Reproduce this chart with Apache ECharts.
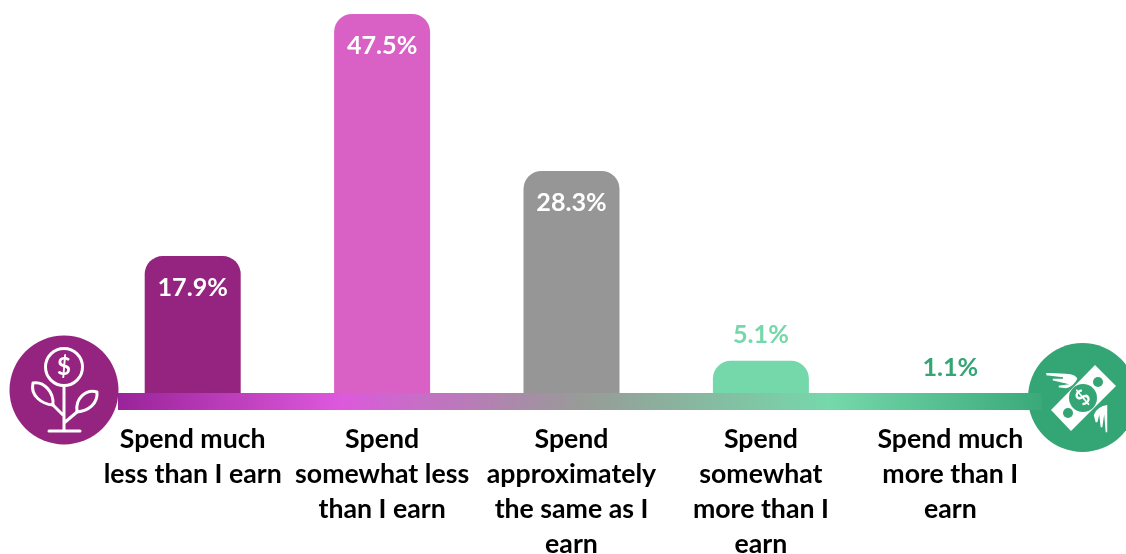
<!DOCTYPE html>
<html><head><meta charset="utf-8">
<style>html,body{margin:0;padding:0;background:#fff}#c{width:1126px;height:554px}</style>
<script src="https://cdn.jsdelivr.net/npm/echarts@6/dist/echarts.min.js"></script>
</head><body><div id="c"></div>
<script>
const categories = ["Spend much\nless than I earn","Spend\nsomewhat less\nthan I earn","Spend\napproximately\nthe same as I\nearn","Spend\nsomewhat\nmore than I\nearn","Spend much\nmore than I\nearn"];
const values = [17.9,47.5,28.3,5.1,1.1];
const barColors = ["#94247f","#d961c6","#969696","#75d8ab","#34a574"];
const labelColors = ["#ffffff","#ffffff","#ffffff","#75d8ab","#34a574"];
const labelInside = [true,true,true,false,false];
const font = "Lato";
const chart = echarts.init(document.getElementById('c'));
const W = '#ffffff';
const G = '#34a574';
const icons = {
  stem:'M64 386 L64 431 M49 431 L80 431 M64 416 L53 405 M64 423 L77 412',
  leafL:'M33 383 C44 381 54 392 53 405 C42 404 30 396 33 383 Z',
  leafR:'M97 392 C86 389 75 398 77 412 C88 411 98 404 97 392 Z',
  bill:'M1095 365 L1116 386 L1071 431 L1051 410 Z',
  wingA:'M1045 372 L1066 373 C1073 373 1078 376 1078 379 C1075 385 1071 388 1066 389 L1058 388 L1058 385 L1065 384 L1052 381 L1052 378 L1063 378 L1046 376 Z',
  wingB:'M1108 404 L1108 433 L1105 433 L1104 421 L1103 428 L1100 428 L1099 419 L1098 423 L1095 423 L1093 415 C1095 409 1101 405 1108 404 Z'
};
Object.keys(icons).forEach(k=>echarts.graphic.registerShape(k,echarts.graphic.extendPath(icons[k],{})));
chart.setOption({
  animation:false,
  grid:{left:98,right:81,top:14,bottom:151.6,outerBoundsMode:'none',containLabel:false},
  xAxis:{type:'category',data:categories,axisLine:{show:false},axisTick:{show:false},
    axisLabel:{interval:0,margin:20,color:'#000',fontFamily:font,fontWeight:'bold',fontSize:26.7,lineHeight:34.8,align:'center',verticalAlign:'top'}},
  yAxis:{type:'value',min:0,max:47.5,show:false,splitLine:{show:false}},
  series:[{type:'bar',barWidth:96,z:2,
    data:values.map((v,i)=>({value:v,
      itemStyle:{color:barColors[i],borderRadius:[18,18,0,0]},
      label:{show:true,position:labelInside[i]?'insideTop':'top',distance:labelInside[i]?19:13,color:labelColors[i],
        fontFamily:font,fontWeight:'bold',fontSize:25.2,formatter:'{c}%'}}))}],
  graphic:[
    {type:'rect',z:20,shape:{x:118,y:393,width:924,height:17},
      style:{fill:new echarts.graphic.LinearGradient(0,0,1,0,[
        {offset:0,color:'#9a2399'},{offset:.24,color:'#dd58dd'},{offset:.503,color:'#979c97'},{offset:.77,color:'#75d8ab'},{offset:1,color:'#3aa97a'}])}},
    {type:'circle',z:19,shape:{cx:64,cy:390,r:54.5},style:{fill:'#94247f'}},
    {type:'circle',z:21,shape:{cx:64,cy:367,r:18.5},style:{fill:'none',stroke:W,lineWidth:3}},
    {type:'text',z:21,style:{x:64,y:367,text:'$',fill:W,font:'bold 24px Lato',align:'center',verticalAlign:'middle'}},
    {type:'stem',z:21,style:{fill:'none',stroke:W,lineWidth:3,lineCap:'round'}},
    {type:'leafL',z:21,style:{fill:'none',stroke:W,lineWidth:3,lineJoin:'round'}},
    {type:'leafR',z:21,style:{fill:'none',stroke:W,lineWidth:3,lineJoin:'round'}},
    {type:'circle',z:19,shape:{cx:1082.5,cy:397.5,r:54.5},style:{fill:G}},
    {type:'bill',z:21,style:{fill:W}},
    {type:'circle',z:22,shape:{cx:1083,cy:398,r:14},style:{fill:G}},
    {type:'circle',z:22,shape:{cx:1098,cy:382,r:5},style:{fill:G}},
    {type:'circle',z:22,shape:{cx:1068,cy:413,r:5},style:{fill:G}},
    {type:'text',z:23,rotation:Math.PI/4,x:1083,y:398,style:{x:0,y:0,text:'$',fill:W,font:'bold 21px Lato',align:'center',verticalAlign:'middle'}},
    {type:'wingA',z:24,style:{fill:W,stroke:G,lineWidth:1.5}},
    {type:'wingB',z:24,style:{fill:W,stroke:G,lineWidth:1.5}}
  ]
});
</script></body></html>
